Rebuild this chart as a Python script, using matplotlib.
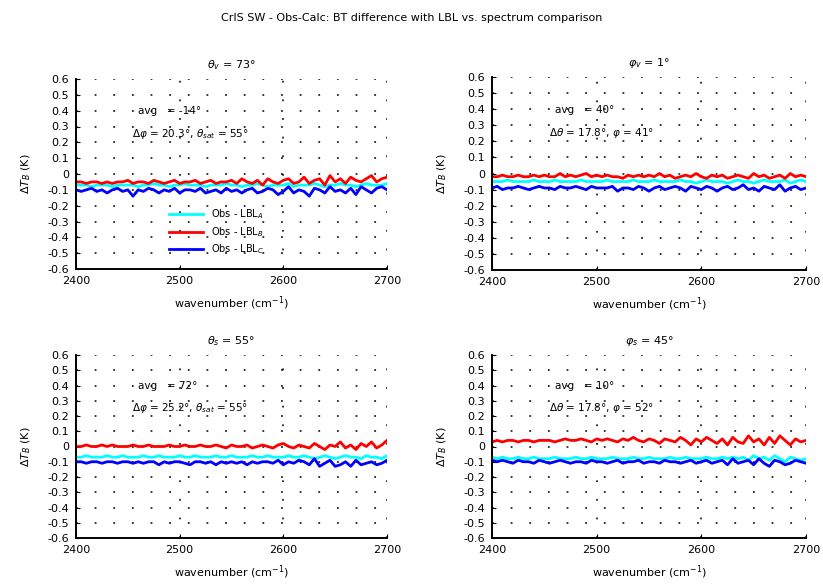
import numpy as np
import matplotlib
matplotlib.use("Agg")
import matplotlib.pyplot as plt

plt.rcParams['font.family'] = ['DejaVu Sans']
plt.rcParams['mathtext.fontset'] = 'dejavusans'

# Spectral differences (units of 0.01 K) for three comparisons per view geometry
tl_red = [-5,-5,-6,-5,-5,-6,-5,-6,-5,-5,-4,-6,-5,-5,-6,-4,-5,-6,-5,-4,-6,-5,-5,-4,-6,-5,-4,-6,-5,-5,
          -4,-6,-3,-5,-6,-4,-7,-3,-5,-6,-4,-3,-6,-5,-2,-6,-4,-3,-7,-1,-5,-3,-6,-2,-4,-5,-3,-1,-5,-3,-2]
tl_cyan = [-7,-7,-7,-8,-7,-7,-7,-8,-7,-7,-7,-7,-8,-7,-7,-6,-7,-7,-8,-7,-7,-6,-7,-7,-7,-8,-7,-7,-7,-6,
           -7,-7,-8,-7,-7,-6,-7,-8,-7,-7,-7,-6,-8,-7,-7,-7,-6,-7,-8,-7,-7,-6,-7,-7,-8,-7,-6,-7,-7,-7,-6]
tl_blue = [-10,-11,-10,-9,-11,-10,-12,-10,-9,-11,-10,-14,-10,-11,-9,-10,-12,-10,-11,-9,-12,-10,-10,-11,-9,-12,-11,-10,-12,-9,
           -11,-10,-12,-10,-9,-12,-11,-9,-10,-13,-11,-8,-12,-10,-11,-14,-9,-10,-12,-8,-11,-10,-12,-9,-13,-8,-10,-12,-9,-8,-10]

tr_red = [-2,-2,-1,-2,-2,-1,-2,-2,-1,-2,-1,-2,-2,0,-2,-1,-2,-1,0,-2,-1,-2,-1,-2,-2,-3,-1,-2,-1,-2,
          -1,-2,0,-2,-1,-3,-2,-1,-2,0,-2,-3,-1,-2,-1,-3,-2,-1,-2,-3,0,-2,-1,-3,-2,-1,-3,0,-2,-1,-2]
tr_cyan = [-5,-5,-5,-4,-5,-5,-5,-5,-4,-5,-5,-5,-4,-5,-5,-5,-5,-4,-5,-5,-5,-5,-4,-5,-5,-5,-5,-4,-5,-5,
           -5,-4,-5,-5,-5,-5,-4,-5,-5,-6,-5,-4,-5,-5,-5,-6,-5,-4,-5,-5,-6,-5,-4,-5,-5,-5,-4,-6,-5,-4,-5]
tr_blue = [-9,-8,-10,-9,-9,-8,-9,-10,-9,-8,-9,-9,-10,-8,-9,-9,-8,-9,-10,-8,-9,-9,-9,-8,-11,-9,-9,-10,-8,-9,
           -11,-9,-8,-10,-9,-8,-9,-11,-8,-9,-10,-8,-9,-11,-9,-8,-10,-9,-7,-10,-9,-11,-8,-9,-10,-7,-11,-9,-8,-10,-9]

bl_red = [0,0,1,0,0,1,0,1,0,0,0,1,0,0,1,0,0,0,1,0,0,1,0,0,1,0,0,1,0,-1,
          1,0,0,1,-1,0,1,0,-1,1,2,0,-1,1,0,-1,2,0,-2,1,0,3,-1,1,-2,2,0,3,-1,1,4]
bl_cyan = [-7,-7,-6,-7,-7,-7,-6,-7,-7,-6,-7,-7,-7,-6,-7,-7,-6,-7,-7,-7,-6,-7,-7,-6,-7,-7,-7,-6,-7,-7,
           -6,-7,-7,-7,-6,-7,-7,-6,-7,-7,-7,-6,-7,-7,-6,-7,-8,-7,-6,-7,-8,-7,-6,-7,-7,-8,-6,-7,-7,-8,-6]
bl_blue = [-10,-10,-11,-10,-10,-11,-10,-10,-11,-10,-10,-11,-10,-11,-10,-10,-12,-10,-11,-10,-10,-11,-12,-10,-10,-11,-10,-12,-10,-11,
           -10,-11,-10,-12,-10,-11,-10,-10,-11,-9,-12,-10,-11,-9,-10,-12,-8,-13,-11,-9,-13,-12,-10,-13,-9,-12,-11,-10,-12,-11,-9]

br_red = [3,4,3,4,4,3,4,4,3,4,4,4,3,4,5,4,4,5,4,3,5,4,5,4,3,5,4,6,4,3,
          5,4,2,5,4,3,6,4,1,5,3,6,4,2,5,1,6,3,2,7,3,5,1,6,2,7,4,1,5,3,4]
br_cyan = [-7,-8,-7,-8,-8,-7,-8,-8,-7,-8,-8,-8,-7,-8,-8,-8,-7,-8,-8,-7,-8,-8,-8,-7,-8,-8,-8,-7,-8,-8,
           -7,-8,-8,-8,-7,-8,-8,-7,-8,-8,-8,-7,-8,-8,-7,-8,-7,-8,-7,-9,-6,-8,-7,-9,-6,-8,-10,-7,-8,-9,-8]
br_blue = [-9,-10,-9,-10,-11,-9,-10,-10,-11,-9,-10,-11,-10,-9,-10,-11,-10,-10,-11,-9,-10,-10,-11,-10,-9,-11,-10,-10,-9,-11,
           -10,-10,-11,-9,-10,-10,-11,-10,-9,-11,-10,-9,-11,-10,-9,-12,-8,-11,-10,-9,-12,-8,-11,-13,-9,-10,-12,-11,-9,-10,-11]

panel_titles = [r"$\theta_{v}$ = 73°", r"$\varphi_{v}$ = 1°",
                r"$\theta_{s}$ = 55°", r"$\varphi_{s}$ = 45°"]
line1_texts = [r"avg   = -14°", r"avg   = 40°", r"avg   = 72°", r"avg   = 10°"]
line2_texts = [r"$\Delta\varphi$ = 20.3°, $\theta_{sat}$ = 55°",
               r"$\Delta\theta$ = 17.8°, $\varphi$ = 41°",
               r"$\Delta\varphi$ = 25.2°, $\theta_{sat}$ = 55°",
               r"$\Delta\theta$ = 17.8°, $\varphi$ = 52°"]
legend_labels = [r"Obs - LBL$_{A}$", r"Obs - LBL$_{B}$", r"Obs - LBL$_{C}$"]

yticks = [-0.6, -0.5, -0.4, -0.3, -0.2, -0.1, 0, 0.1, 0.2, 0.3, 0.4, 0.5, 0.6]
xticks = [2400, 2500, 2600, 2700]

panels = [(tl_red, tl_cyan, tl_blue), (tr_red, tr_cyan, tr_blue),
          (bl_red, bl_cyan, bl_blue), (br_red, br_cyan, br_blue)]

W, H = 823, 585
fig = plt.figure(figsize=(W / 100, H / 100), dpi=100)
fig.text(0.5, 1 - 18 / H, "CrIS SW - Obs-Calc: BT difference with LBL vs. spectrum comparison",
         ha='center', va='center', fontsize=8)

# axes rectangles in pixel units: left, top, right, bottom
rects = [(76, 79, 387, 269), (492, 77, 806, 270), (76, 355, 387, 538), (492, 355, 806, 538)]

for i, ((red, cyan, blue), (l, t, r, b)) in enumerate(zip(panels, rects)):
    ax = fig.add_axes([l / W, 1 - b / H, (r - l) / W, (b - t) / H])
    n = len(red)
    wn = np.linspace(2400, 2700, n)
    h1, = ax.plot(wn, np.array(cyan) / 100, color='cyan', lw=2.0)
    h2, = ax.plot(wn, np.array(red) / 100, color='red', lw=2.0)
    h3, = ax.plot(wn, np.array(blue) / 100, color='blue', lw=2.0)
    ax.set_xlim(2400, 2700)
    ax.set_ylim(-0.6, 0.6)
    ax.set_xticks(xticks)
    ax.set_yticks(yticks)
    ax.set_yticklabels([f"{v:g}" for v in yticks])
    ax.tick_params(labelsize=8, length=3, direction='in', pad=5)
    ax.grid(True, linestyle=(0, (1.2, 11)), color='black', lw=1.1)
    for s in ['top', 'right']:
        ax.spines[s].set_visible(False)
    ax.spines['left'].set_linewidth(1.4)
    ax.spines['bottom'].set_linewidth(1.4)
    ax.set_title(panel_titles[i], fontsize=8, pad=8)
    ax.set_xlabel(r"wavenumber (cm$^{-1}$)", fontsize=8, labelpad=6)
    ax.set_ylabel(r"$\Delta T_{B}$ (K)", fontsize=8, labelpad=10)
    ax.text(0.2, 0.83, line1_texts[i], transform=ax.transAxes, fontsize=7.5, va='center')
    ax.text(0.18, 0.71, line2_texts[i], transform=ax.transAxes, fontsize=7.5, va='center')
    if i == 0:
        ax.legend([h1, h2, h3], legend_labels, loc='lower left', bbox_to_anchor=(0.27, 0.02),
                  frameon=False, fontsize=7, handlelength=3.5, labelspacing=0.4)

fig.savefig("out.png", dpi=100)
